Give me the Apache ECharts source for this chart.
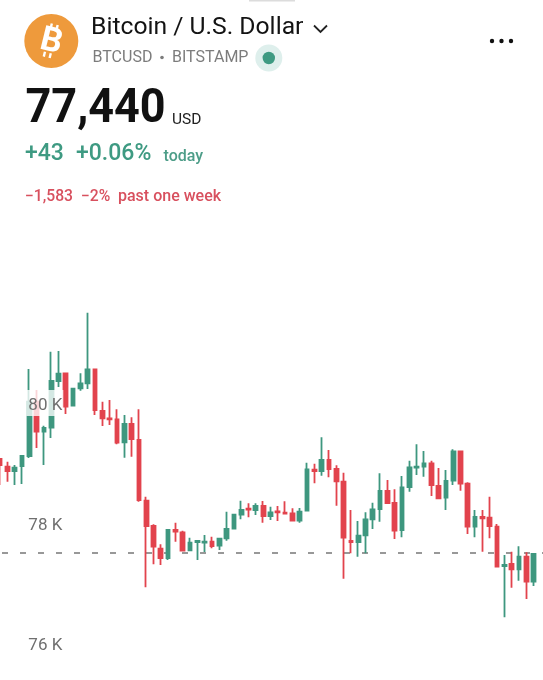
<!DOCTYPE html>
<html>
<head>
<meta charset="utf-8">
<style>
  html, body { margin: 0; padding: 0; background: #fff; }
  #chart { width: 543px; height: 680px; }
</style>
<script src="https://cdn.jsdelivr.net/npm/echarts@6/dist/echarts.min.js"></script>
</head>
<body>
<div id="chart"></div>
<script>
const opens = [79067,78938,78867,78950,79117,80022,79522,79588,80367,80495,79955,80245,80328,80562,79867,79745,79728,79345,79650,79383,
  78372,77950,77572,77417,77883,77845,77545,77683,77672,77688,77622,77745,77905,78138,78238,78217,78283,78117,78195,78172,
  78162,78038,78205,78888,78867,79050,78900,78688,77700,77683,77795,78062,78233,78533,78333,77883,78600,78922,78938,78995,
  78617,78422,78705,79195,78655,77938,78100,78088,77938,77283,77317,77228,77438,77022];
const closes = [78967,78867,78922,79117,80022,79522,79583,80367,80488,79938,80238,80328,80562,79883,79745,79728,79338,79650,79400,78383,
  77950,77605,77417,77883,77855,77538,77672,77700,77688,77617,77738,77900,78138,78217,78222,78283,78117,78178,78178,78155,
  78038,78188,78895,78867,79050,78900,78695,77755,77683,77788,78062,78228,78533,78333,77872,78595,78928,78938,78995,78633,
  78412,78700,79195,78655,77938,78100,78078,77950,77272,77300,77228,77438,77022,77483];
const lows = [78633,78688,78633,78650,79083,79250,78967,79417,80267,79817,79950,80205,80233,79800,79617,79633,79312,79088,79105,78355,
  76928,77312,77300,77383,77688,77533,77545,77383,77517,77578,77550,77705,77900,78062,78095,78133,78005,78050,78033,78155,
  78028,78005,78205,78662,78788,78762,78288,77072,77495,77438,77495,77900,78022,78317,77733,77762,78522,78800,78772,78450,
  78395,78217,78633,78538,77817,77762,77522,77745,77272,76428,76922,77038,76733,76950];
const highs = [79083,79022,78967,79133,80567,80217,79622,80855,80867,80495,80250,80495,81505,80562,80022,80050,79895,79800,79762,79895,
  78438,77978,77645,77883,78005,77872,77755,77717,77800,77772,77755,78188,78145,78372,78328,78328,78367,78272,78283,78362,
  78245,78250,79005,78988,79428,79217,78962,78838,78217,78033,78178,78338,78828,78717,78562,78783,79038,79312,79200,79038,
  78917,78883,79228,79195,78678,78217,78217,78438,77983,77467,77522,77612,77512,77495];
const categories = opens.map((_, i) => i);
const yTicks = { 76000: '76 K', 78000: '78 K', 80000: '80 K' };
const prevClose = 77500;

const upColor = '#3e977f';
const downColor = '#e2434d';
const textFont = 'Roboto, sans-serif';

function txt(x, y, text, size, color, weight) {
  return {
    type: 'text',
    z: 20,
    style: { x, y, text, fill: color, font: (weight || 'normal') + ' ' + size + 'px ' + textFont, textVerticalAlign: 'middle' }
  };
}

// small ticks of the bitcoin sign, top and bottom of the B
function logoTick(x, y) {
  return { type: 'rect', z: 21, x: 51.5, y: 41, rotation: -0.24, shape: { x, y, width: 2.4, height: 5 }, style: { fill: '#fff' } };
}

const myChart = echarts.init(document.getElementById('chart'));

const option = {
  animation: false,
  backgroundColor: '#fff',
  grid: { left: -3.66, top: 295, width: 548.25, height: 348, outerBoundsMode: 'none' },
  xAxis: {
    type: 'category',
    data: categories.concat(['']),
    boundaryGap: true,
    axisLine: { show: false },
    axisTick: { show: false },
    axisLabel: { show: false },
    splitLine: { show: false }
  },
  yAxis: {
    type: 'value',
    min: 76000,
    max: 81800,
    interval: 2000,
    z: 5,
    axisLine: { show: false },
    axisTick: { show: false },
    splitLine: { show: false },
    axisLabel: {
      inside: true,
      margin: 30,
      showMaxLabel: false,
      backgroundColor: 'rgba(255,255,255,0.78)',
      formatter: v => (yTicks[v] ? '{tick|' + yTicks[v] + '}' : ''),
      rich: {
        tick: { fontFamily: textFont, fontSize: 17, color: '#6f6f6f', padding: [6, 1, 0, 2], height: 20 }
      }
    }
  },
  series: [
    {
      type: 'candlestick',
      barWidth: 4.2,
      clip: false,
      itemStyle: {
        color: upColor,
        color0: downColor,
        borderColor: upColor,
        borderColor0: downColor,
        borderWidth: 1.8
      },
      data: opens.map((o, i) => [o, closes[i], lows[i], highs[i]]),
      markLine: {
        silent: true,
        symbol: 'none',
        z: 1,
        label: { show: false },
        lineStyle: { color: '#777', width: 1.6, type: [6, 12], dashOffset: 12.34 },
        data: [{ yAxis: prevClose }]
      }
    }
  ],
  graphic: [
    { type: 'rect', z: 20, shape: { x: 249, y: 0, width: 46, height: 1.5 }, style: { fill: '#dcdcdc' } },
    // logo
    { type: 'circle', z: 20, shape: { cx: 51.3, cy: 41, r: 27 }, style: { fill: '#ee9a3c' } },
    {
      type: 'text', z: 21, x: 51.5, y: 41, rotation: -0.24,
      style: { text: 'B', x: 0, y: 1.5, fill: '#fff', font: 'bold 34px ' + textFont, textAlign: 'center', textVerticalAlign: 'middle' }
    },
    logoTick(-5, -17), logoTick(1, -17), logoTick(-5, 12), logoTick(1, 12),
    // title row
    txt(91, 28, 'Bitcoin / U.S. Dollar', 24.7, '#131313', '400'),
    { type: 'polyline', z: 20, shape: { points: [[314, 25.5], [320.5, 32], [327, 25.5]] }, style: { stroke: '#222', lineWidth: 1.8, fill: null } },
    txt(92.5, 58, 'BTCUSD', 16, '#7c7c7c'),
    { type: 'circle', z: 20, shape: { cx: 162, cy: 57.5, r: 1.8 }, style: { fill: '#7c7c7c' } },
    txt(172, 58, 'BITSTAMP', 16, '#7c7c7c'),
    { type: 'circle', z: 20, shape: { cx: 268.8, cy: 58, r: 13.5 }, style: { fill: '#deefec' } },
    { type: 'circle', z: 20, shape: { cx: 268.8, cy: 58, r: 6.2 }, style: { fill: '#3e9a82' } },
    { type: 'circle', z: 20, shape: { cx: 492, cy: 41, r: 2.2 }, style: { fill: '#111' } },
    { type: 'circle', z: 20, shape: { cx: 501.5, cy: 41, r: 2.2 }, style: { fill: '#111' } },
    { type: 'circle', z: 20, shape: { cx: 511, cy: 41, r: 2.2 }, style: { fill: '#111' } },
    // price
    {
      type: 'text', z: 20, x: 25.5, y: 110, scaleY: 1.07,
      style: { x: 0, y: 0, text: '77,440', fill: '#111', font: 'bold 45px ' + textFont, textVerticalAlign: 'middle' }
    },
    txt(172, 120.5, 'USD', 15.5, '#222'),
    txt(25, 154, '+43', 23, '#3e9a82', '500'),
    txt(76, 154, '+0.06%', 23, '#3e9a82', '500'),
    txt(163.5, 156.5, 'today', 16, '#4d9d88', '500'),
    // week change
    txt(25, 197, '\u22121,583', 15.7, '#d8505e', '500'),
    txt(81, 197, '\u22122%', 15.7, '#d8505e', '500'),
    txt(118, 197, 'past one week', 16, '#d8505e', '500')
  ]
};

myChart.setOption(option);
</script>
</body>
</html>
